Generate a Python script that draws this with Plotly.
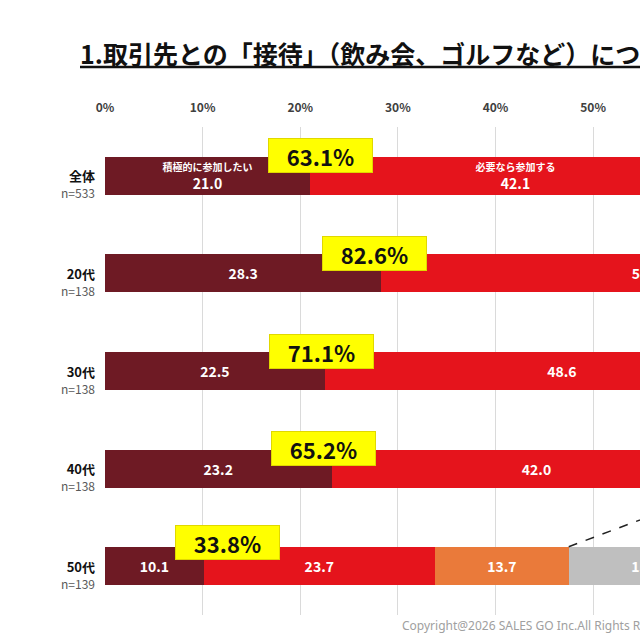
import plotly.graph_objects as go

categories = ["全体", "20代", "30代", "40代", "50代"]
sample_sizes = ["n=533", "n=138", "n=138", "n=138", "n=139"]
series_names = ["積極的に参加したい", "必要なら参加する", "できれば参加したくない", "参加したくない", "全く参加したくない"]
v_active = [21.0, 28.3, 22.5, 23.2, 10.1]
v_if_needed = [42.1, 54.3, 48.6, 42.0, 23.7]
v_rather_not = [17.5, 9.4, 14.0, 15.6, 13.7]
v_not = [11.2, 4.9, 8.6, 10.8, 15.8]
v_never = [8.2, 3.1, 6.3, 8.4, 36.7]
participate_totals = ["63.1%", "82.6%", "71.1%", "65.2%", "33.8%"]
x_ticks = [0, 10, 20, 30, 40, 50]

series_values = [v_active, v_if_needed, v_rather_not, v_not, v_never]
colors = ["#6E1A24", "#E5141C", "#EA7A3A", "#BFBFBF", "#8C8C8C"]

fig = go.Figure()
for si, (name, vals, col) in enumerate(zip(series_names, series_values, colors)):
    texts = []
    for ri, v in enumerate(vals):
        if ri == 0 and si < 2:
            texts.append(f"<span style='font-size:10px'>{name}</span><br>{v:.1f}")
        else:
            texts.append(f"{v:.1f}")
    fig.add_trace(go.Bar(
        y=categories, x=vals, orientation="h", name=name,
        marker=dict(color=col, line=dict(width=0)),
        text=texts, textposition="inside", insidetextanchor="middle",
        textangle=0, textfont=dict(color="white", size=14, family="Noto Sans CJK JP", weight="bold"),
        constraintext="none", cliponaxis=True, hoverinfo="skip",
    ))

# y category labels (category name at bar centre, sample size beneath)
for cat, n in zip(categories, sample_sizes):
    fig.add_annotation(
        x=0, y=cat, xref="paper", yref="y", xanchor="right", yanchor="middle",
        xshift=-8, yshift=-8, showarrow=False, align="right",
        text=f"<b>{cat}</b><br><span style='color:#595959;font-size:12px'>{n}</span>",
        font=dict(size=13, color="#111111", family="Noto Sans CJK JP"),
    )

# yellow total boxes
box_xshift = [10, -7, -3, -8, 24]
box_yshift = [20, 20, 20, 20, 24]
for cat, val, label, xs, ys in zip(categories, v_active, participate_totals, box_xshift, box_yshift):
    fig.add_annotation(
        x=val, y=cat, xref="x", yref="y", text=label, showarrow=False,
        xshift=xs, yshift=ys, bgcolor="#FFFF00", bordercolor="#E0D800", borderwidth=1,
        width=101, height=31, font=dict(size=22, color="#111111", family="Noto Sans CJK JP", weight=600),
        valign="middle",
    )

# dashed callout from the gray segment of 50代
start_x = v_active[4] + v_if_needed[4] + v_rather_not[4]
fig.add_shape(type="line", xref="x", yref="y", x0=start_x, y0=4 - 0.2, x1=start_x + 8, y1=4 - 0.5,
              line=dict(color="#222222", width=1.5, dash="dash"))

fig.update_layout(
    width=640, height=640,
    margin=dict(l=105, r=0, t=127, b=25),
    barmode="stack", bargap=0.61,
    plot_bgcolor="white", paper_bgcolor="white",
    showlegend=False,
    font=dict(family="Noto Sans CJK JP", color="#222222"),
    title=dict(
        text="<b><span style='text-decoration:underline'>1.取引先との「接待」（飲み会、ゴルフなど）についての参加意向</span></b>",
        x=80 / 640, xanchor="left", xref="container",
        y=1 - 55 / 640, yanchor="middle", yref="container",
        font=dict(size=25, color="#111111", family="Noto Sans CJK JP"),
    ),
    xaxis=dict(
        range=[0, 54.8], side="top", tickvals=x_ticks,
        ticktext=[f"<b>{t}%</b>" for t in x_ticks],
        tickfont=dict(size=12, color="#404040"),
        showgrid=True, gridcolor="#DADADA", gridwidth=1, zeroline=False,
        showline=False, ticks="", ticklabelstandoff=12, fixedrange=True,
    ),
    yaxis=dict(
        categoryorder="array", categoryarray=categories, autorange="reversed",
        showticklabels=False,
        showgrid=False, zeroline=False, showline=False, ticks="",
    ),
)

fig.add_annotation(
    text="Copyright@2026 SALES GO Inc.All Rights Reserved.",
    xref="paper", yref="paper", x=(400 - 105) / 535, y=-0.022, xanchor="left", yanchor="middle",
    showarrow=False, font=dict(size=12, color="#A0A0A0", family="Noto Sans"),
)

fig.write_html("out.html")
